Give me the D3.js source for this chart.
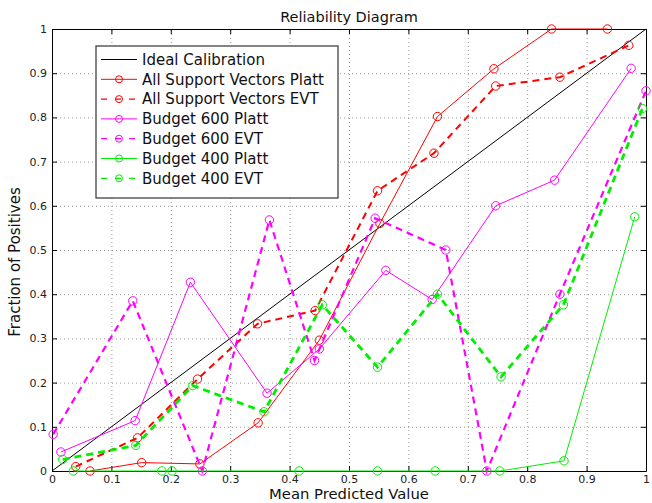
<!DOCTYPE html>
<html>
<head>
<meta charset="utf-8">
<script src="https://cdn.jsdelivr.net/npm/d3@7"></script>
<style>
  body { margin: 0; background: #fff; }
  text { font-family: 'DejaVu Sans', sans-serif; }
</style>
</head>
<body>
<div id="chart"></div>
<script>
const tickValues = [0, 0.1, 0.2, 0.3, 0.4, 0.5, 0.6, 0.7, 0.8, 0.9, 1]
const tickLabels = ['0', '0.1', '0.2', '0.3', '0.4', '0.5', '0.6', '0.7', '0.8', '0.9', '1']

const idealX = [0, 1]
const idealY = [0, 1]

const svPlattX = [0.064, 0.151, 0.249, 0.347, 0.45, 0.552, 0.649, 0.744, 0.841, 0.935]
const svPlattY = [0, 0.019, 0.016, 0.109, 0.296, 0.56, 0.802, 0.91, 1, 1]

const svEvtX = [0.04, 0.144, 0.245, 0.346, 0.443, 0.548, 0.643, 0.747, 0.855, 0.971]
const svEvtY = [0.01, 0.075, 0.208, 0.333, 0.363, 0.634, 0.719, 0.871, 0.891, 0.963]

const b600PlattX = [0.015, 0.14, 0.233, 0.362, 0.45, 0.562, 0.64, 0.747, 0.846, 0.975]
const b600PlattY = [0.043, 0.114, 0.427, 0.176, 0.276, 0.454, 0.388, 0.6, 0.658, 0.911]

const b600EvtX = [0.002, 0.136, 0.253, 0.366, 0.442, 0.544, 0.663, 0.732, 0.855, 1]
const b600EvtY = [0.083, 0.385, 0, 0.568, 0.25, 0.572, 0.5, 0, 0.4, 0.86]

const b400PlattX = [0.036, 0.185, 0.202, 0.416, 0.548, 0.645, 0.754, 0.862, 0.981]
const b400PlattY = [0, 0, 0, 0, 0, 0, 0, 0.023, 0.575]

const b400EvtX = [0.018, 0.141, 0.237, 0.357, 0.455, 0.548, 0.649, 0.756, 0.861, 0.994]
const b400EvtY = [0.026, 0.058, 0.193, 0.134, 0.376, 0.235, 0.4, 0.213, 0.376, 0.82]

const seriesNames = [
  'Ideal Calibration',
  'All Support Vectors Platt',
  'All Support Vectors EVT',
  'Budget 600 Platt',
  'Budget 600 EVT',
  'Budget 400 Platt',
  'Budget 400 EVT'
]

const width = 652
const height = 503
const margin = { top: 29, right: 6, bottom: 32, left: 52 }
const plotW = width - margin.left - margin.right
const plotH = height - margin.top - margin.bottom

const zip = (xs, ys) => xs.map((x, i) => ({ x, y: ys[i] }))

const series = [
  { name: seriesNames[0], pts: zip(idealX, idealY), color: '#000', dash: null, w: 1, marker: false },
  { name: seriesNames[1], pts: zip(svPlattX, svPlattY), color: '#ff0000', dash: null, w: 1, marker: true },
  { name: seriesNames[2], pts: zip(svEvtX, svEvtY), color: '#ff0000', dash: '7,5', w: 2, marker: true },
  { name: seriesNames[3], pts: zip(b600PlattX, b600PlattY), color: '#ff00ff', dash: null, w: 1, marker: true },
  { name: seriesNames[4], pts: zip(b600EvtX, b600EvtY), color: '#ff00ff', dash: '7,5', w: 2.2, marker: true },
  { name: seriesNames[5], pts: zip(b400PlattX, b400PlattY), color: '#00ee00', dash: null, w: 1, marker: true },
  { name: seriesNames[6], pts: zip(b400EvtX, b400EvtY), color: '#00ee00', dash: '7,5', w: 2.8, marker: true }
]

const svg = d3.select('#chart').append('svg').attr('width', width).attr('height', height)
const g = svg.append('g').attr('transform', `translate(${margin.left},${margin.top})`)

const x = d3.scaleLinear().domain([0, 1]).range([0, plotW])
const y = d3.scaleLinear().domain([0, 1]).range([plotH, 0])

// dotted grid
const inner = tickValues.slice(1, -1)
g.append('g')
  .attr('transform', `translate(0,${plotH})`)
  .call(d3.axisBottom(x).tickValues(inner).tickSize(-plotH).tickFormat(''))
  .call((a) => a.select('.domain').remove())
  .selectAll('line').attr('stroke', '#999').attr('stroke-dasharray', '1,3')
g.append('g')
  .call(d3.axisLeft(y).tickValues(inner).tickSize(-plotW).tickFormat(''))
  .call((a) => a.select('.domain').remove())
  .selectAll('line').attr('stroke', '#999').attr('stroke-dasharray', '1,3')

// axes, ticks pointing inward on all sides
const styleAxis = (a) => {
  a.select('.domain').attr('stroke', '#000')
  a.selectAll('.tick line').attr('stroke', '#000')
  a.selectAll('.tick text').attr('fill', '#222').style('font-size', '11px').style('font-family', 'DejaVu Sans')
}
g.append('g')
  .attr('transform', `translate(0,${plotH})`)
  .call(d3.axisBottom(x).tickValues(tickValues).tickSizeInner(-5).tickSizeOuter(0).tickPadding(4)
    .tickFormat((d, i) => tickLabels[i]))
  .call(styleAxis)
g.append('g')
  .call(d3.axisLeft(y).tickValues(tickValues).tickSizeInner(-5).tickSizeOuter(0).tickPadding(5)
    .tickFormat((d, i) => tickLabels[i]))
  .call(styleAxis)
g.append('g')
  .call(d3.axisTop(x).tickValues(tickValues).tickSizeInner(-5).tickSizeOuter(0).tickFormat(''))
  .call(styleAxis)
g.append('g')
  .attr('transform', `translate(${plotW},0)`)
  .call(d3.axisRight(y).tickValues(tickValues).tickSizeInner(-5).tickSizeOuter(0).tickFormat(''))
  .call(styleAxis)

// lines and markers
const line = d3.line().x((d) => x(d.x)).y((d) => y(d.y))
series.forEach((s) => {
  g.append('path')
    .datum(s.pts)
    .attr('d', line)
    .attr('fill', 'none')
    .attr('stroke', s.color)
    .attr('stroke-width', s.w)
    .attr('stroke-dasharray', s.dash)
  if (s.marker) {
    g.selectAll(null)
      .data(s.pts)
      .enter()
      .append('circle')
      .attr('cx', (d) => x(d.x))
      .attr('cy', (d) => y(d.y))
      .attr('r', 4.2)
      .attr('fill', 'none')
      .attr('stroke', s.color)
      .attr('stroke-width', 1)
  }
})

// legend
const lg = svg.append('g').attr('transform', 'translate(96,46)')
lg.append('rect')
  .attr('width', 242).attr('height', 152)
  .attr('fill', '#fff').attr('stroke', '#333').attr('stroke-width', 1.2)
series.forEach((s, i) => {
  const ly = 13.5 + i * 19.8
  lg.append('line')
    .attr('x1', 5).attr('x2', 41).attr('y1', ly).attr('y2', ly)
    .attr('stroke', s.color).attr('stroke-width', s.dash ? 1.2 : 1)
    .attr('stroke-dasharray', s.dash ? '6,8' : null)
  if (s.marker) {
    lg.append('circle').attr('cx', 23).attr('cy', ly).attr('r', 3.5)
      .attr('fill', 'none').attr('stroke', s.color)
  }
  lg.append('text').attr('x', 46).attr('y', ly).attr('dy', '0.35em')
    .style('font-size', '15px').attr('fill', '#111').text(s.name)
})

// titles
svg.append('text').attr('x', margin.left + plotW / 2).attr('y', 22)
  .attr('text-anchor', 'middle').style('font-size', '14.5px').attr('fill', '#111')
  .text('Reliability Diagram')
svg.append('text').attr('x', margin.left + plotW / 2).attr('y', 499.3)
  .attr('text-anchor', 'middle').style('font-size', '14.8px').attr('fill', '#111')
  .text('Mean Predicted Value')
svg.append('text').attr('transform', 'translate(20,262) rotate(-90)')
  .attr('text-anchor', 'middle').style('font-size', '15px').attr('fill', '#111')
  .text('Fraction of Positives')
</script>
</body>
</html>
